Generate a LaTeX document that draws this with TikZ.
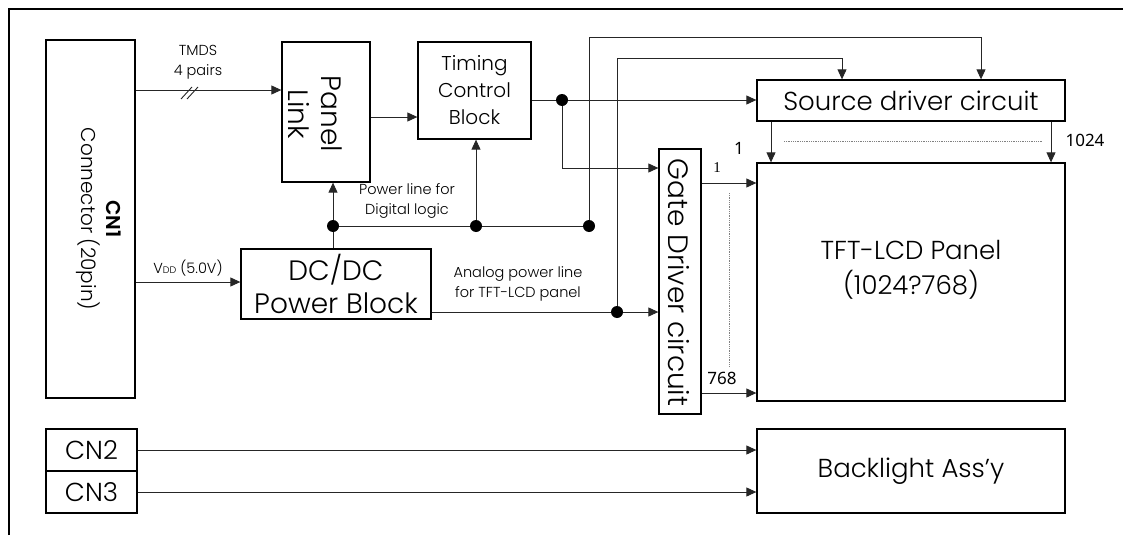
\documentclass[tikz,border=0pt]{standalone}
\usepackage{fontspec}
\setmainfont{Poppins}[UprightFont={* Light}, BoldFont={* SemiBold}]
\newfontfamily\serifnum{Liberation Serif}
\newfontfamily\numfont{Noto Sans}
\usetikzlibrary{arrows.meta,calc}
\begin{document}
\begin{tikzpicture}[x=1pt,y=-1pt,
  box/.style={draw, line width=1.3pt, inner sep=0pt},
  conn/.style={line width=0.9pt, draw=black!85},
  arr/.style={conn, -{Triangle[length=10pt,width=9pt]}},
  big/.style={font=\fontsize{26}{35}\selectfont},
  huge/.style={font=\fontsize{28}{33}\selectfont},
  mid/.style={font=\fontsize{20}{27}\selectfont},
  small/.style={font=\fontsize{14.5}{20}\selectfont},
  num/.style={font=\numfont\fontsize{17}{18}\selectfont},
  jdot/.style={fill=black}
]
\useasboundingbox (0,0) rectangle (1123,535);
% outer frame
\draw[line width=2pt] (9,535) -- (9,9) -- (1123,9);

% boxes
\node[box, minimum width=89pt, minimum height=358pt] (cn1) at (90.5,219) {};
\node[rotate=-90, align=center, font=\fontsize{20}{25}\selectfont] (cn1t) at (99,219) {\textbf{CN1}\\Connector (20pin)};

\node[box, minimum width=88pt, minimum height=140pt] (plink) at (326,112) {};
\node[rotate=-90, align=center, huge] (plinkt) at (315,114) {Panel\\Link};

\node[box, minimum width=113pt, minimum height=97pt, align=center, mid] (tcb) at (474.5,90.5) {Timing\\Control\\Block};

\node[box, minimum width=308pt, minimum height=41pt, big] (src) at (911,100.5) {Source driver circuit};

\node[box, minimum width=308pt, minimum height=238pt] (tft) at (911,282) {};
\node[big, align=center] (tftt) at (911,270) {TFT-LCD Panel\\(1024?768)};

\node[box, minimum width=308pt, minimum height=84pt, big] (bl) at (911,471) {Backlight Ass’y};

\node[box, minimum width=42pt, minimum height=265pt] (gate) at (680,281.5) {};
\node[rotate=-90, huge] (gatet) at (678.5,282.5) {Gate Driver circuit};

\node[box, minimum width=190pt, minimum height=70pt, align=center, huge] (dcdc) at (336,284) {DC/DC\\Power Block};

\node[box, minimum width=91pt, minimum height=42pt, big] (cn2) at (91.5,450) {CN2};
\node[box, minimum width=91pt, minimum height=42pt, big] (cn3) at (91.5,492) {CN3};

% junctions
\coordinate (d1) at (562,100);
\coordinate (d2) at (333,226);
\coordinate (d3) at (476,226);
\coordinate (d4) at (589,226);
\coordinate (d5) at (617,312);
\coordinate (c1) at (981,37);
\coordinate (c2) at (842,58);

% connectors
\draw[arr] (cn1.east |- 0,90) -- (plink.west |- 0,90);
\draw[conn] (181,99) -- (192,87);
\draw[conn] (187,99) -- (198,87);
\draw[arr] (plink.east |- 0,117) -- (tcb.west |- 0,117);
\draw[conn] (tcb.east |- d1) -- (d1);
\draw[arr] (d1) -- (src.west |- d1);
\draw[arr] (d1) |- (gate.west |- 0,168);

\draw[arr] (d2 |- dcdc.north) -- (d2 |- plink.south);
\draw[conn] (d2) -- (d4);
\draw[arr] (d3) -- (d3 |- tcb.south);
\draw[arr] (d4) |- (c1) -- (c1 |- src.north);

\draw[arr] (cn1.east |- 0,282) -- (dcdc.west |- 0,282);
\draw[conn] (dcdc.east |- d5) -- (d5);
\draw[arr] (d5) -- (gate.west |- d5);
\draw[arr] (d5) |- (c2) -- (c2 |- src.north);

\draw[arr] (src.south -| 771,0) -- (tft.north -| 771,0);
\draw[arr] (src.south -| 1051,0) -- (tft.north -| 1051,0);
\draw[arr] (gate.east |- 0,183) -- (tft.west |- 0,183);
\draw[arr] (gate.east |- 0,393) -- (tft.west |- 0,393);

\draw[arr] (cn2.east) -- (bl.west |- cn2.east);
\draw[arr] (cn3.east) -- (bl.west |- cn3.east);

% dots
\foreach \p in {d1,d2,d3,d4,d5} \fill[jdot] (\p) circle (6pt);

% dotted
\draw[gray, densely dotted, line width=0.8pt] (784,141) -- (1043,141);
\draw[gray, densely dotted, line width=0.8pt] (729,193) -- (729,366);

% labels
\node[small, align=center] (tmds) at (198,62) {TMDS\\4 pairs};
\node[small] (vdd) at (188,268) {V{\fontsize{9.5}{10}\selectfont DD} (5.0V)};
\node[small, align=center] (pwr) at (407,201) {Power line for\\Digital logic};
\node[small, align=center] (ana) at (518,284) {Analog power line\\for TFT-LCD panel};
\node[num] (n1a) at (739,148) {1};
\node[num] (n1024) at (1085,140) {1024};
\node[font=\serifnum\fontsize{15}{15}\selectfont] (n1b) at (717,168) {1};
\node[num] (n768) at (722,378) {768};
\end{tikzpicture}
\end{document}
